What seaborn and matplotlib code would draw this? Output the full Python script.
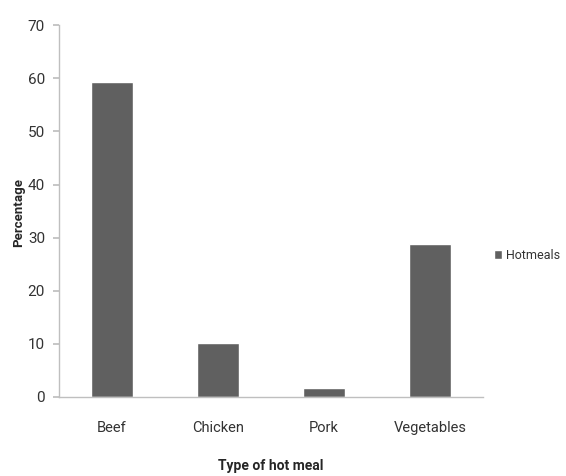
import pandas as pd
import seaborn as sns
from matplotlib import pyplot as plt

# Values
MEALS = ["Beef", "Chicken", "Pork", "Vegetables"]
PERCENTAGE = [59.3, 10.2, 1.6, 28.8]
YTICKS = [0, 10, 20, 30, 40, 50, 60, 70]

BAR_COLOR = "#606060"
AXIS_COLOR = "#bfbfbf"

sns.set_theme(style="white")
plt.rcParams["font.family"] = ["Roboto", "DejaVu Sans"]

df = pd.DataFrame({"meal": MEALS, "pct": PERCENTAGE})

fig = plt.figure(figsize=(5.66, 4.76), dpi=100)
ax = fig.add_axes([0.104, 0.166, 0.749, 0.781])

sns.barplot(data=df, x="meal", y="pct", color=BAR_COLOR, width=0.4,
            saturation=1, ax=ax, label="Hotmeals")

ax.set_xlim(-0.5, 3.5)
ax.set_ylim(0, 70)
ax.set_yticks(YTICKS)
ax.tick_params(axis="y", length=4, color=AXIS_COLOR, labelsize=11, pad=6,
               labelcolor="#333333", left=True)
ax.tick_params(axis="x", length=0, labelsize=10.5, pad=17, labelcolor="#333333")

for side in ("top", "right"):
    ax.spines[side].set_visible(False)
for side in ("left", "bottom"):
    ax.spines[side].set_color(AXIS_COLOR)
    ax.spines[side].set_linewidth(1)

ax.set_xlabel("")
ax.set_ylabel("")
fig.text(0.033, 0.553, "Percentage", rotation=90, ha="center", va="center",
         fontsize=9.5, fontweight="bold")
fig.text(0.478, 0.02, "Type of hot meal", ha="center", va="center",
         fontsize=10, fontweight="bold")

leg = ax.legend(loc="center left", bbox_to_anchor=(0.872, 0.464),
                bbox_transform=fig.transFigure, frameon=False,
                handlelength=0.7, handleheight=0.7, handletextpad=0.3,
                borderpad=0, borderaxespad=0, fontsize=9)
for t in leg.get_texts():
    t.set_color("#333333")

fig.savefig("out.png", dpi=100)
